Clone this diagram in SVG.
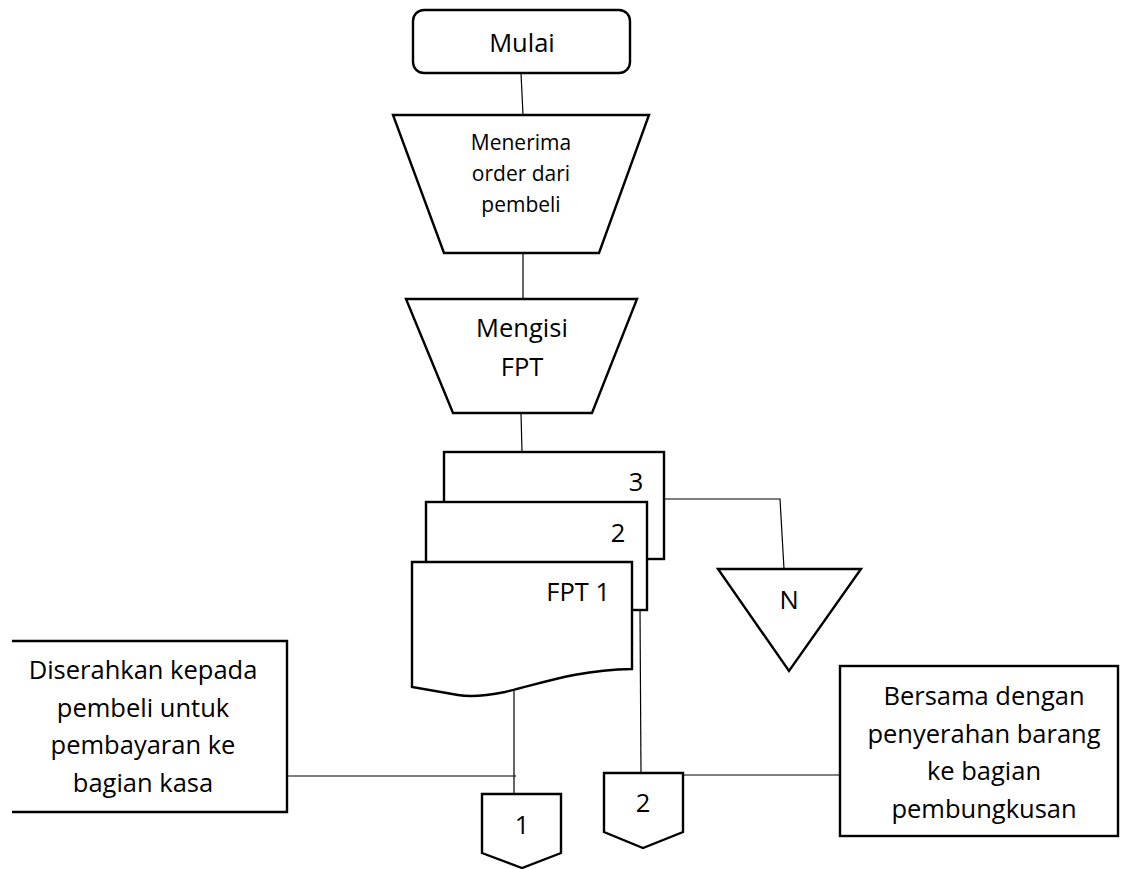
<svg xmlns="http://www.w3.org/2000/svg" width="1122" height="869" viewBox="0 0 1122 869">
  <style>
    .shape { fill: #ffffff; stroke: #000000; stroke-width: 2.4; stroke-linejoin: miter; }
    .link { fill: none; stroke: #000000; stroke-width: 1.2; }
    text { font-family: "Open Sans", "Noto Sans", "Liberation Sans", sans-serif; fill: #000000; text-anchor: middle; }
    .big { font-size: 25.5px; }
    .small { font-size: 21px; }
  </style>
  <rect width="1122" height="869" fill="#ffffff"/>

  <!-- connectors -->
  <g id="connectors">
    <line class="link" x1="521" y1="73" x2="523" y2="115"/>
    <line class="link" x1="523" y1="253" x2="523" y2="299"/>
    <line class="link" x1="521" y1="413" x2="522" y2="452"/>
    <polyline class="link" points="662,499 780,499 784,569"/>
    <line class="link" x1="514" y1="691" x2="514" y2="794"/>
    <line class="link" x1="287" y1="776" x2="516" y2="776"/>
    <line class="link" x1="640" y1="610" x2="641" y2="773"/>
    <line class="link" x1="643" y1="775" x2="840" y2="775"/>
  </g>

  <!-- start terminator -->
  <g id="mulai">
    <rect class="shape" x="413" y="10" width="217" height="63" rx="11" ry="11"/>
    <text class="big" x="522" y="52">Mulai</text>
  </g>

  <!-- manual operation: receive order -->
  <g id="menerima-order">
    <polygon class="shape" points="393,115 649,115 599,253 444,253"/>
    <text class="small" x="521" y="150">Menerima</text>
    <text class="small" x="521" y="181">order dari</text>
    <text class="small" x="521" y="212">pembeli</text>
  </g>

  <!-- manual operation: fill in FPT -->
  <g id="mengisi-fpt">
    <polygon class="shape" points="406,299 637,299 592,413 453,413"/>
    <text class="big" x="522" y="337">Mengisi</text>
    <text class="big" x="522" y="376">FPT</text>
  </g>

  <!-- FPT document, three copies -->
  <g id="fpt-documents">
    <rect class="shape" x="444" y="452" width="220" height="107"/>
    <text class="big" x="636" y="491">3</text>
    <rect class="shape" x="426" y="502" width="221" height="108"/>
    <text class="big" x="618" y="542">2</text>
    <path class="shape" d="M412,562 H632 V669 C575,670 540,684 505,692 C485,696 470,697 458,695 L412,687 Z"/>
    <text class="big" x="610" y="601" style="text-anchor:end">FPT 1</text>
  </g>

  <!-- file archive N -->
  <g id="arsip-n">
    <polygon class="shape" points="718,569 861,569 789,671"/>
    <text class="big" x="789" y="609">N</text>
  </g>

  <!-- note: copy 1 to buyer -->
  <g id="catatan-pembeli">
    <path class="shape" d="M12,641 H287 V812 H12"/>
    <text class="big" x="143" y="679">Diserahkan kepada</text>
    <text class="big" x="143" y="716.5">pembeli untuk</text>
    <text class="big" x="143" y="754">pembayaran ke</text>
    <text class="big" x="143" y="791.5">bagian kasa</text>
  </g>

  <!-- off-page connector 1 -->
  <g id="konektor-1">
    <polygon class="shape" points="482,794 561,794 561,853 522,868 482,853"/>
    <text class="big" x="522" y="834">1</text>
  </g>

  <!-- off-page connector 2 -->
  <g id="konektor-2">
    <polygon class="shape" points="604,773 683,773 683,832 643,848 604,832"/>
    <text class="big" x="643" y="812">2</text>
  </g>

  <!-- note: copy 2 with goods -->
  <g id="catatan-pembungkusan">
    <rect class="shape" x="840" y="666" width="278" height="170"/>
    <text class="big" x="984" y="705">Bersama dengan</text>
    <text class="big" x="984" y="742.5">penyerahan barang</text>
    <text class="big" x="984" y="780">ke bagian</text>
    <text class="big" x="984" y="817.5">pembungkusan</text>
  </g>
</svg>
